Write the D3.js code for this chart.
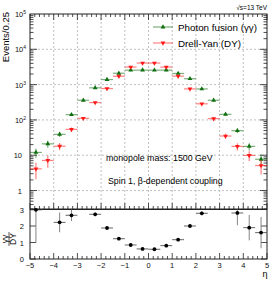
<!DOCTYPE html>
<html>
<head>
    <title>Monopole eta distribution</title>
    <script src="https://d3js.org/d3.v7.min.js"></script>
    <style>
        body { margin: 0; background: #fff; }
        text { font-family: "Liberation Sans", Arial, sans-serif; }
    </style>
</head>
<body>
    <div id="chart"></div>
    <script>
// bin centres in eta (bin width 0.25 units of 0.5)
const etaBins = [-4.75, -4.25, -3.75, -3.25, -2.75, -2.25, -1.75, -1.25, -0.75, -0.25,
                 0.25, 0.75, 1.25, 1.75, 2.25, 2.75, 3.25, 3.75, 4.25, 4.75];
const binHalfWidth = 0.25;
// events per bin
const photonFusion = [12, 21, 39, 141, 361, 810, 1390, 2100, 2560, 2570,
                      2560, 2570, 2070, 1470, 755, 360, 144, 49.6, 17.8, 7.7];
const drellYan = [4.1, 7.1, 18, 54, 111, 310, 775, 1730, 3140, 4080,
                  4080, 3140, 1740, 755, 286, 109, 35, 17.8, 9.9, 5.1];
// ratio panel (points above 3 fall outside the frame)
const ratioValues = [2.98, 3.1, 2.22, 2.65, 3.3, 2.71, 1.88, 1.23, 0.85, 0.61,
                     0.59, 0.81, 1.17, 2.0, 2.77, 3.3, 4.1, 2.79, 1.90, 1.60];
const ratioErrors = [2.0, 0.9, 0.6, 0.35, 0.4, 0.12, 0.07, 0.04, 0.03, 0.02,
                     0.02, 0.03, 0.04, 0.07, 0.12, 0.4, 0.6, 0.75, 0.77, 0.95];
const xTicks = [-5, -4, -3, -2, -1, 0, 1, 2, 3, 4, 5];
const yDecades = [1, 10, 100, 1000, 10000, 100000];
const ratioTicks = [0, 1, 2, 3];

const W = 274, H = 281;
const svg = d3.select("#chart").append("svg").attr("width", W).attr("height", H);

const x = d3.scaleLinear().domain([-5, 5]).range([30, 267]);
const y = d3.scaleLog().domain([0.3, 1e5]).range([209, 14]);
const yr = d3.scaleLinear().domain([0, 3]).range([259, 209.5]);

const green = "#0f6e0f", red = "#ff1a1a";

// clip paths
const defs = svg.append("defs");
defs.append("clipPath").attr("id", "clipMain").append("rect")
    .attr("x", 30).attr("y", 14).attr("width", 237).attr("height", 195);
defs.append("clipPath").attr("id", "clipRatio").append("rect")
    .attr("x", 30).attr("y", 209.5).attr("width", 237).attr("height", 49.5);

// grid in main panel
const grid = svg.append("g").attr("stroke", "#b0b0b0").attr("stroke-dasharray", "2,2").attr("stroke-width", 0.8);
grid.selectAll(".gx").data(xTicks.slice(1, -1)).enter().append("line")
    .attr("x1", d => x(d)).attr("x2", d => x(d)).attr("y1", 14).attr("y2", 209);
grid.selectAll(".gy").data(yDecades.slice(0, -1)).enter().append("line")
    .attr("x1", 30).attr("x2", 267).attr("y1", d => y(d)).attr("y2", d => y(d));

// axes: ticks inside frame
const axes = svg.append("g").attr("stroke", "#222").attr("stroke-width", 0.8);
const minorX = d3.range(-50, 51, 2).map(d => d / 10);
function xTicksAt(y0, dir) {
    axes.selectAll(null).data(minorX).enter().append("line")
        .attr("x1", d => x(d)).attr("x2", d => x(d))
        .attr("y1", y0).attr("y2", d => y0 + dir * (Number.isInteger(d) ? 6 : 3));
}
xTicksAt(209, -1); xTicksAt(14, 1); xTicksAt(259, -1);

const minorY = [];
for (let e = -1; e < 5; e++) for (let m = 1; m < 10; m++) {
    const v = m * Math.pow(10, e);
    if (v >= 0.3 && v <= 1e5) minorY.push(v);
}
[[30, 1], [267, -1]].forEach(([x0, dir]) => {
    axes.selectAll(null).data(minorY).enter().append("line")
        .attr("y1", d => y(d)).attr("y2", d => y(d))
        .attr("x1", x0).attr("x2", d => x0 + dir * (yDecades.includes(d) ? 7 : 3.5));
    axes.selectAll(null).data(ratioTicks).enter().append("line")
        .attr("y1", d => yr(d)).attr("y2", d => yr(d))
        .attr("x1", x0).attr("x2", x0 + dir * 6);
});

// frames
svg.append("rect").attr("x", 30).attr("y", 14).attr("width", 237).attr("height", 195)
    .attr("fill", "none").attr("stroke", "#222").attr("stroke-width", 1);
svg.append("rect").attr("x", 30).attr("y", 209.5).attr("width", 237).attr("height", 49.5)
    .attr("fill", "none").attr("stroke", "#222").attr("stroke-width", 1);

// tick labels
const lbl = svg.append("g").attr("font-size", 7.5).attr("fill", "#111");
yDecades.forEach(v => {
    const p = Math.round(Math.log10(v));
    const t = lbl.append("text").attr("y", y(v) + 3).attr("text-anchor", "end");
    if (p === 0) t.attr("x", 22).text("1");
    else if (p === 1) t.attr("x", 22).text("10");
    else {
        t.attr("x", 26);
        t.append("tspan").text("10");
        t.append("tspan").attr("font-size", 5).attr("dy", -3).text(p);
    }
});
ratioTicks.forEach(v => {
    lbl.append("text").attr("x", 24).attr("y", yr(v) + 3).attr("text-anchor", "end").text(v);
});
xTicks.forEach(v => {
    lbl.append("text").attr("x", x(v)).attr("y", 268).attr("text-anchor", "middle")
        .text(v < 0 ? "\u2212" + Math.abs(v) : v);
});
svg.append("text").attr("x", 265).attr("y", 277).attr("font-size", 9).attr("text-anchor", "middle").text("η");

// axis titles
svg.append("text").attr("transform", "translate(9,12) rotate(-90)").attr("text-anchor", "end")
    .attr("font-size", 9.5).text("Events/0.25");
const frac = svg.append("g").attr("transform", "translate(9,239) rotate(-90)").attr("font-size", 8.5);
frac.append("text").attr("x", 0).attr("y", -1.5).attr("text-anchor", "middle").text("γγ");
frac.append("line").attr("x1", -7).attr("x2", 7).attr("y1", 0).attr("y2", 0).attr("stroke", "#111").attr("stroke-width", 0.7);
frac.append("text").attr("x", 0).attr("y", 7).attr("text-anchor", "middle").text("DY");

// text labels
svg.append("text").attr("x", 267).attr("y", 10).attr("text-anchor", "end").attr("font-size", 6.5).text("√s=13 TeV");
svg.append("text").attr("x", 106).attr("y", 161).attr("font-size", 8.8).text("monopole mass: 1500 GeV");
svg.append("text").attr("x", 108).attr("y", 184).attr("font-size", 8.8).text("Spin 1, β-dependent coupling");

// series
const tri = d3.symbol().type(d3.symbolTriangle).size(10);
function drawSeries(values, color, down) {
    const g = svg.append("g").attr("clip-path", "url(#clipMain)");
    const pts = etaBins.map((c, i) => ({ c, v: values[i], e: Math.sqrt(values[i]) }));
    g.selectAll(null).data(pts).enter().append("line")
        .attr("x1", d => x(d.c - binHalfWidth)).attr("x2", d => x(d.c + binHalfWidth))
        .attr("y1", d => y(d.v)).attr("y2", d => y(d.v))
        .attr("stroke", color).attr("stroke-opacity", 0.55).attr("stroke-width", 1.2);
    g.selectAll(null).data(pts).enter().append("line")
        .attr("x1", d => x(d.c)).attr("x2", d => x(d.c))
        .attr("y1", d => y(Math.max(d.v - d.e, 0.31))).attr("y2", d => y(d.v + d.e))
        .attr("stroke", color).attr("stroke-opacity", 0.55).attr("stroke-width", 1.2);
    g.selectAll(null).data(pts).enter().append("path")
        .attr("d", tri)
        .attr("transform", d => `translate(${x(d.c)},${y(d.v)})${down ? " rotate(180)" : ""}`)
        .attr("fill", color);
}
drawSeries(photonFusion, green, false);
drawSeries(drellYan, red, true);

// ratio
const rg = svg.append("g").attr("clip-path", "url(#clipRatio)");
const rpts = etaBins.map((c, i) => ({ c, v: ratioValues[i], e: ratioErrors[i] })).filter(d => d.v <= 3);
rg.selectAll(null).data(rpts).enter().append("line")
    .attr("x1", d => x(d.c - binHalfWidth)).attr("x2", d => x(d.c + binHalfWidth))
    .attr("y1", d => yr(d.v)).attr("y2", d => yr(d.v))
    .attr("stroke", "#555").attr("stroke-width", 0.9);
rg.selectAll(null).data(rpts).enter().append("line")
    .attr("x1", d => x(d.c)).attr("x2", d => x(d.c))
    .attr("y1", d => yr(d.v - d.e)).attr("y2", d => yr(d.v + d.e))
    .attr("stroke", "#777").attr("stroke-width", 0.9);
svg.selectAll(null).data(rpts).enter().append("circle")
    .attr("cx", d => x(d.c)).attr("cy", d => yr(d.v)).attr("r", 1.9).attr("fill", "#000");

// legend
const legend = [
    { label: "Photon fusion (γγ)", color: green, down: false },
    { label: "Drell-Yan (DY)", color: red, down: true }
];
legend.forEach((d, i) => {
    const ly = 27 + i * 16;
    svg.append("line").attr("x1", 153).attr("x2", 173).attr("y1", ly).attr("y2", ly)
        .attr("stroke", d.color).attr("stroke-opacity", 0.55).attr("stroke-width", 1.2);
    svg.append("path").attr("d", tri)
        .attr("transform", `translate(163,${ly})${d.down ? " rotate(180)" : ""}`).attr("fill", d.color);
    svg.append("text").attr("x", 178).attr("y", ly + 3.5).attr("font-size", 9.8).text(d.label);
});
    </script>
</body>
</html>
